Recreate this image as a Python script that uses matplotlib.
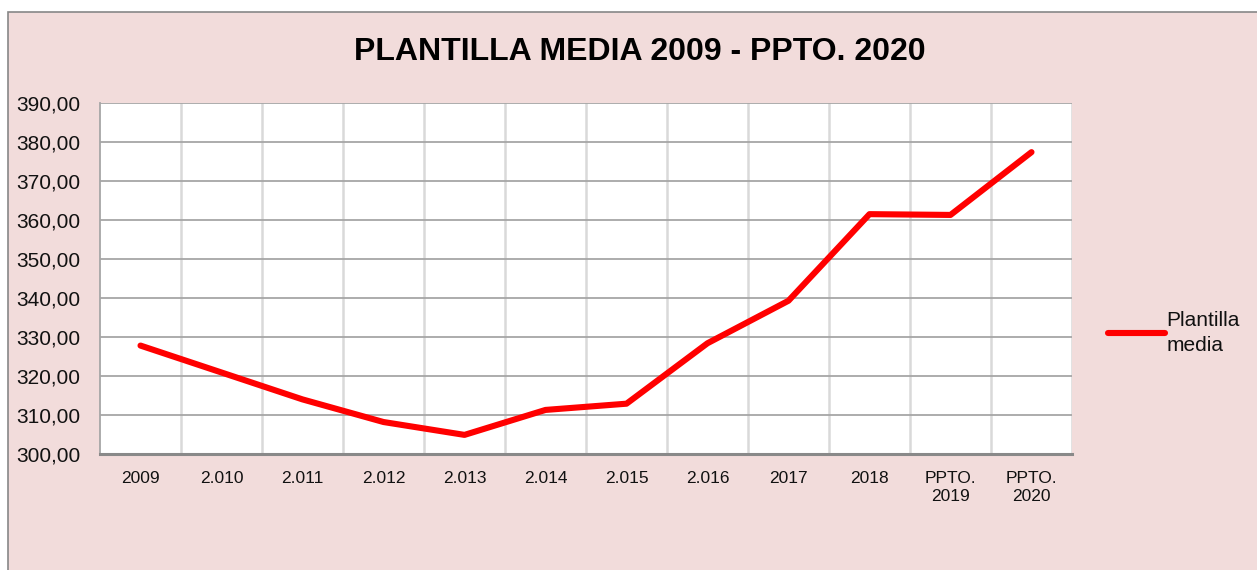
import numpy as np
import matplotlib
matplotlib.use('Agg')
import matplotlib.pyplot as plt
from matplotlib.patches import Rectangle
from matplotlib.ticker import FuncFormatter, FixedLocator

plt.rcParams['font.family'] = ['Liberation Sans', 'DejaVu Sans']

categories = ['2009', '2.010', '2.011', '2.012', '2.013', '2.014', '2.015',
              '2.016', '2017', '2018', 'PPTO.\n2019', 'PPTO.\n2020']
plantilla = [327.8, 320.9, 314.0, 308.2, 304.9, 311.3, 312.9,
             328.4, 339.3, 361.5, 361.3, 377.4]

bg = '#F2DCDB'

fig = plt.figure(figsize=(12.57, 5.7), dpi=100)
fig.patch.set_facecolor('white')
# chart area with grey border (runs off right and bottom like the original)
fig.patches.append(Rectangle((8 / 1257, -0.05), 1.1, 1 - 12 / 570 + 0.05,
                             transform=fig.transFigure, facecolor=bg,
                             edgecolor='#878787', linewidth=1.2, zorder=-10))

ax = fig.add_axes([100 / 1257, 1 - 454 / 570, 972 / 1257, 351 / 570])
ax.set_facecolor('white')

x = np.arange(len(categories))
ax.plot(x, plantilla, color='#FF0000', linewidth=4.4, solid_capstyle='round',
        solid_joinstyle='round', label='Plantilla\nmedia', zorder=3)

ax.set_xlim(-0.5, len(categories) - 0.5)
ax.set_ylim(300, 390)
ax.set_yticks(np.arange(300, 391, 10))
ax.yaxis.set_major_formatter(FuncFormatter(lambda v, p: f'{v:.2f}'.replace('.', ',')))
ax.set_xticks(x)
ax.set_xticklabels(categories, fontsize=12.5, color='#111111', linespacing=1.25)
ax.xaxis.set_minor_locator(FixedLocator(np.arange(0.5, len(categories), 1)))

ax.grid(axis='y', which='major', color='#A6A6A6', linewidth=1.3)
ax.grid(axis='x', which='minor', color='#D9D9D9', linewidth=1.8)
ax.set_axisbelow(True)

ax.tick_params(axis='y', length=0, pad=14, labelsize=15, labelcolor='#111111')
ax.tick_params(axis='x', which='both', length=0, pad=12)

for side in ['top', 'right']:
    ax.spines[side].set_visible(False)
ax.spines['left'].set_color('#A6A6A6')
ax.spines['left'].set_linewidth(1.3)
ax.spines['bottom'].set_color('#898989')
ax.spines['bottom'].set_linewidth(2.2)

fig.text(640 / 1257, 1 - 52 / 570, 'PLANTILLA MEDIA 2009 - PPTO. 2020',
         ha='center', va='center', fontsize=23, fontweight='bold', color='black')

leg = ax.legend(loc='center left', bbox_to_anchor=(1098 / 1257, 1 - 333 / 570),
                bbox_transform=fig.transFigure, frameon=False, fontsize=15,
                handlelength=2.7, handletextpad=0.1, borderpad=0)
for t in leg.get_texts():
    t.set_linespacing(1.4)
    t.set_color('#111111')

fig.savefig('out.png', dpi=100, facecolor=fig.get_facecolor())
